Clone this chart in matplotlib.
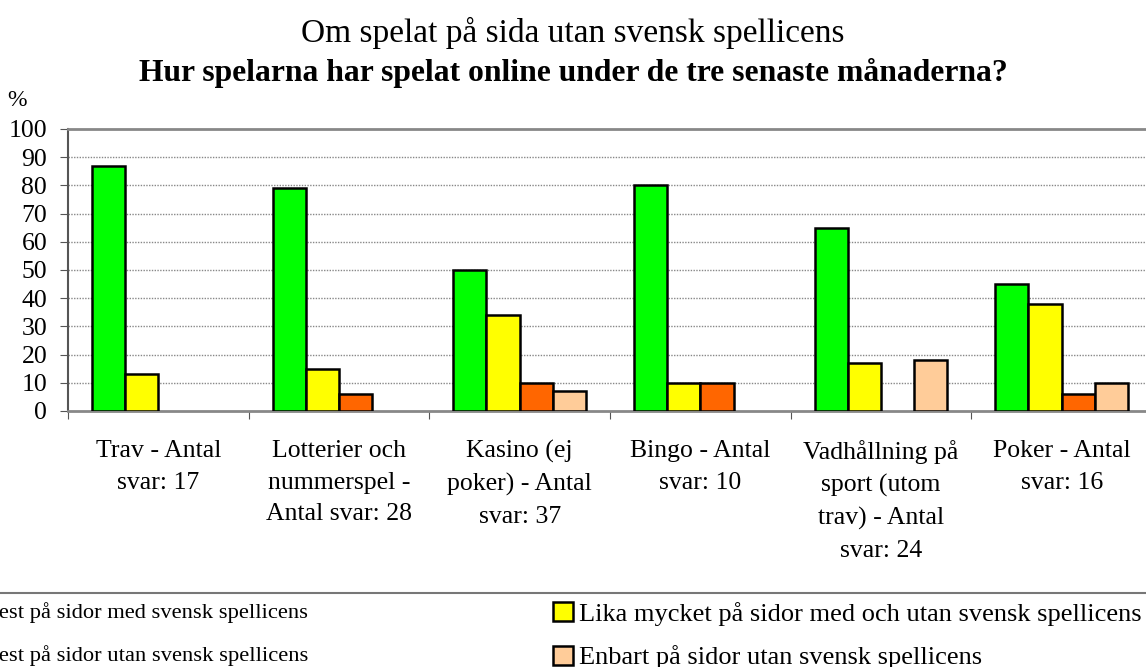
import matplotlib
matplotlib.use("Agg")
import matplotlib.pyplot as plt
from matplotlib.patches import Patch
from matplotlib.lines import Line2D
import numpy as np

plt.rcParams['font.family'] = ['Liberation Serif', 'DejaVu Serif']

# data (percent)
categories = ["Trav - Antal\nsvar: 17",
              "Lotterier och\nnummerspel -\nAntal svar: 28",
              "Kasino (ej\npoker) - Antal\nsvar: 37",
              "Bingo - Antal\nsvar: 10",
              "Vadhållning på\nsport (utom\ntrav) - Antal\nsvar: 24",
              "Poker - Antal\nsvar: 16"]
series_names = ["Mest på sidor med svensk spellicens",
                "Lika mycket på sidor med och utan svensk spellicens",
                "Mest på sidor utan svensk spellicens",
                "Enbart på sidor utan svensk spellicens"]
mest_med = [87, 79, 50, 80, 65, 45]
lika = [13, 15, 34, 10, 17, 38]
mest_utan = [0, 6, 10, 10, 0, 6]
enbart_utan = [0, 0, 7, 0, 18, 10]
colors = ["#00FF00", "#FFFF00", "#FF6600", "#FFCC99"]

fig = plt.figure(figsize=(11.46, 6.67), dpi=100)
ax = fig.add_axes([68/1146, 1-411/667, 1084/1146, 282/667])

x = np.arange(len(categories)) + 0.5
w = 0.184
for k, vals in enumerate([mest_med, lika, mest_utan, enbart_utan]):
    bars = ax.bar(x + (k - 1.5)*w, vals, width=w, color=colors[k],
                  edgecolor="black", linewidth=1.8, zorder=3)
    for b, v in zip(bars, vals):
        if v == 0:
            b.set_visible(False)

ax.set_xlim(0, 6)
ax.set_ylim(0, 100)
ax.set_yticks(range(0, 101, 10))
ax.tick_params(axis='y', labelsize=18.5, length=6, color='#555555', pad=9)
for yv in range(10, 100, 10):
    ax.axhline(yv, color='#888888', lw=1, ls=(0, (1, 1)), zorder=1)

ax.set_xticks(np.arange(0, 7))
ax.set_xticklabels([])
ax.tick_params(axis='x', which='major', length=6, color='#555555', direction='out')
ax.set_xticks(x, minor=True)
ax.set_xticklabels(categories, minor=True, fontsize=18.5, linespacing=1.56, va='top')
ax.tick_params(axis='x', which='minor', length=0, pad=21)

ax.spines['top'].set_color('#888888')
ax.spines['top'].set_linewidth(2)
ax.spines['right'].set_visible(False)
ax.spines['bottom'].set_color('#888888')
ax.spines['bottom'].set_linewidth(2)
ax.spines['left'].set_color('#555555')
ax.spines['left'].set_linewidth(1.5)

fig.text(0.5, 1-33/667, "Om spelat på sida utan svensk spellicens",
         ha='center', va='center', fontsize=24)
fig.text(0.5, 1-73/667, "Hur spelarna har spelat online under de tre senaste månaderna?",
         ha='center', va='center', fontsize=22.8, fontweight='bold')
fig.text(17/1146, 1-101/667, "%", ha='center', va='center', fontsize=17)

# legend, two columns placed separately
handles = [Patch(facecolor=c, edgecolor='black', linewidth=1.8) for c in colors]
leg_kw = dict(frameon=False, borderpad=0, borderaxespad=0, handlelength=0.75,
              handleheight=0.75, handletextpad=0.25)
fig.legend([handles[0], handles[2]], [series_names[0], series_names[2]],
           loc='upper right', bbox_to_anchor=(308/1146, 1-602/667),
           fontsize=16.2, labelspacing=0.96, **leg_kw)
fig.legend([handles[1], handles[3]], [series_names[1], series_names[3]],
           loc='upper left', bbox_to_anchor=(553/1146, 1-602/667),
           fontsize=19, labelspacing=0.74, **leg_kw)
fig.add_artist(Line2D([0, 1], [1-593/667]*2, transform=fig.transFigure,
                      color='#777777', lw=1.5))

fig.savefig("out.png", dpi=100)
